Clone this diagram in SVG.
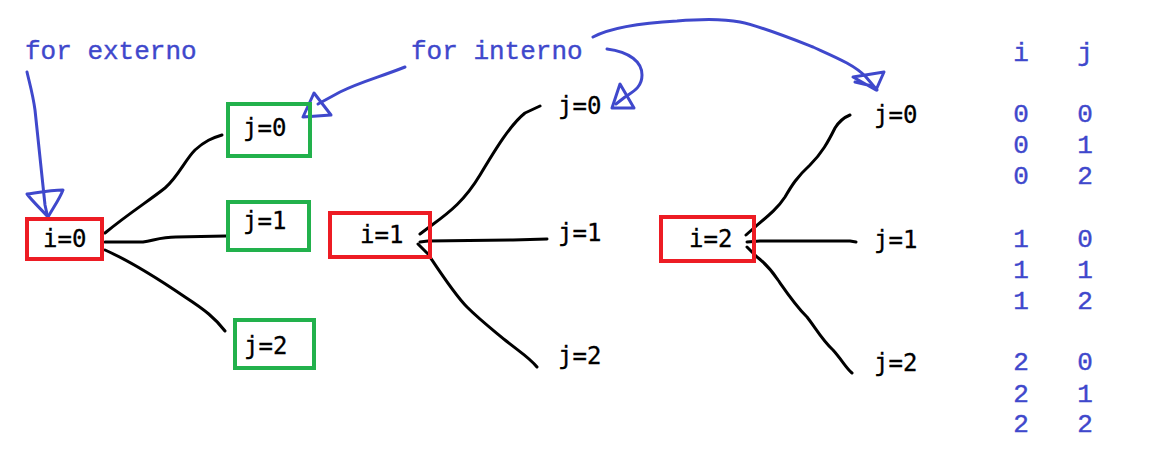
<svg xmlns="http://www.w3.org/2000/svg" width="1149" height="469" viewBox="0 0 1149 469">
<style>
.bg{fill:#ffffff}
.red{fill:none;stroke:#ed1c24;stroke-width:4}
.green{fill:none;stroke:#22b14c;stroke-width:4}
.lbl{font-family:"DejaVu Sans Mono","Liberation Mono",monospace;font-size:24px;fill:#000000;stroke:#000000;stroke-width:0.3}
.blue{font-family:"Liberation Mono","Courier New",monospace;font-size:26px;fill:#3f48cc;stroke:#3f48cc;stroke-width:0.4}
.tbl{font-family:"Liberation Mono","Courier New",monospace;font-size:26px;fill:#3f48cc;stroke:#3f48cc;stroke-width:0.4;text-anchor:middle}
.ln{fill:none;stroke:#000000;stroke-width:3;stroke-linecap:round;stroke-linejoin:round}
.bl{fill:none;stroke:#3f48cc;stroke-width:3;stroke-linecap:round;stroke-linejoin:round}
</style>
<rect class="bg" x="0" y="0" width="1149" height="469"/>
<g id="connectors">
  <path class="ln" d="M105,233 C128,214 150,200 165,188 C178,177 185,160 195,150 C205,141 212,138 222,135"/>
  <path class="ln" d="M105,242 L143,242 C155,240 162,237 176,237 L226,236"/>
  <path class="ln" d="M105,250 C130,261 160,280 185,297 C205,310 215,318 225,331"/>
  <path class="ln" d="M420,234 L432,225 C450,212 465,200 480,175 C495,150 510,125 525,113 L540,106"/>
  <path class="ln" d="M420,242 L428,241 L513,240 L547,239"/>
  <path class="ln" d="M418,244 L428,254 C440,272 455,295 467,307 C480,320 493,330 505,340 C520,352 530,358 537,367"/>
  <path class="ln" d="M746,235 L755,227 C768,216 778,208 785,197 C792,185 797,177 810,165 C822,153 828,142 835,128 C840,120 845,117 850,115"/>
  <path class="ln" d="M747,242 L760,241 L850,241 L856,242"/>
  <path class="ln" d="M747,247 L757,257 C765,263 770,268 778,280 C785,290 795,305 807,317 C815,327 822,340 833,350 C842,360 846,368 852,373"/>
  <path class="bl" d="M27,72 C30,85 33,95 35,110 C38,140 42,175 45,205 L47,214"/>
  <path class="bl" d="M27,194 C35,193 50,190 63,190 C60,198 55,205 48,217 C42,210 33,202 27,194 Z"/>
  <path class="bl" d="M405,67 C380,77 360,82 340,92 L318,104"/>
  <path class="bl" d="M314,93 L303,117 L331,115 Z"/>
  <path class="bl" d="M607,49 C630,52 642,62 642,75 C642,88 632,92 625,97 L616,104"/>
  <path class="bl" d="M620,84 L612,108 L634,108 Z"/>
  <path class="bl" d="M593,37 C610,28 640,23 677,21 C700,19 725,19 740,22 C760,26 790,38 813,47 C835,57 855,65 866,77 L877,90"/>
  <path class="bl" d="M853,77 L884,72 L876,90 Z M855,82 L872,86"/>
</g>
<g id="label-for-externo"><text class="blue" x="25" y="59">for externo</text></g>
<g id="label-for-interno"><text class="blue" x="411" y="59">for interno</text></g>
<g id="node-i0"><rect class="red" x="27" y="219" width="75" height="40"/><text class="lbl" x="43" y="247">i=0</text></g>
<g id="node-j0-a"><rect class="green" x="228" y="104" width="82" height="52"/><text class="lbl" x="243" y="136">j=0</text></g>
<g id="node-j1-a"><rect class="green" x="228" y="202" width="81" height="48"/><text class="lbl" x="243" y="229">j=1</text></g>
<g id="node-j2-a"><rect class="green" x="235" y="320" width="79" height="48"/><text class="lbl" x="244" y="354">j=2</text></g>
<g id="node-i1"><rect class="red" x="330" y="213" width="100" height="44"/><text class="lbl" x="360" y="243">i=1</text></g>
<g id="node-j0-b"><text class="lbl" x="558" y="114">j=0</text></g>
<g id="node-j1-b"><text class="lbl" x="558" y="241">j=1</text></g>
<g id="node-j2-b"><text class="lbl" x="558" y="364">j=2</text></g>
<g id="node-i2"><rect class="red" x="661" y="217" width="93" height="44"/><text class="lbl" x="689" y="247">i=2</text></g>
<g id="node-j0-c"><text class="lbl" x="874" y="123">j=0</text></g>
<g id="node-j1-c"><text class="lbl" x="874" y="248">j=1</text></g>
<g id="node-j2-c"><text class="lbl" x="874" y="371">j=2</text></g>
<g id="table">
  <text class="tbl" x="1021" y="61">i</text><text class="tbl" x="1085" y="61">j</text>
  <text class="tbl" x="1021" y="122">0</text><text class="tbl" x="1085" y="122">0</text>
  <text class="tbl" x="1021" y="153">0</text><text class="tbl" x="1085" y="153">1</text>
  <text class="tbl" x="1021" y="184">0</text><text class="tbl" x="1085" y="184">2</text>
  <text class="tbl" x="1021" y="247">1</text><text class="tbl" x="1085" y="247">0</text>
  <text class="tbl" x="1021" y="278">1</text><text class="tbl" x="1085" y="278">1</text>
  <text class="tbl" x="1021" y="309">1</text><text class="tbl" x="1085" y="309">2</text>
  <text class="tbl" x="1021" y="370">2</text><text class="tbl" x="1085" y="370">0</text>
  <text class="tbl" x="1021" y="402">2</text><text class="tbl" x="1085" y="402">1</text>
  <text class="tbl" x="1021" y="432">2</text><text class="tbl" x="1085" y="432">2</text>
</g>
</svg>
